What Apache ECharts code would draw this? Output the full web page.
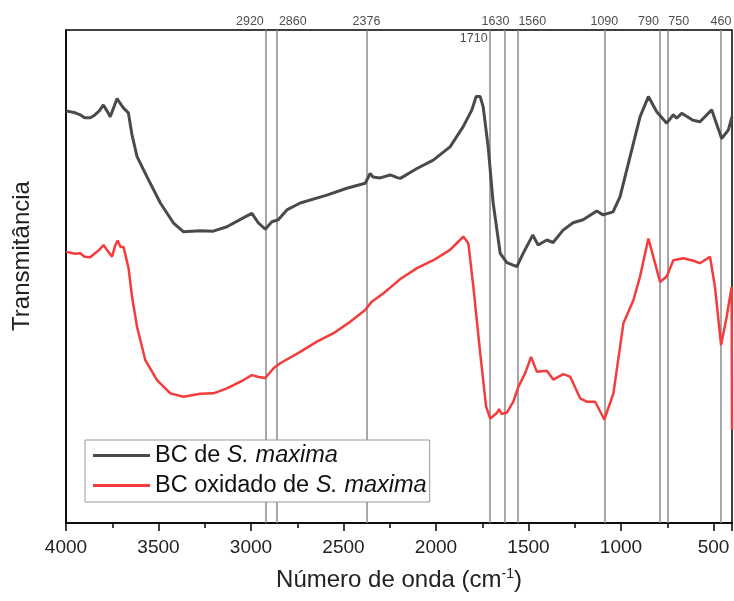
<!DOCTYPE html>
<html>
<head>
<meta charset="utf-8">
<script src="https://cdn.jsdelivr.net/npm/echarts@6/dist/echarts.min.js"></script>
<style>html,body{margin:0;padding:0;background:#fff}#c{width:734px;height:601px}</style>
</head>
<body>
<div id="c"></div>
<script>
// ---- data ----
const seriesNames = ['BC de S. maxima', 'BC oxidado de S. maxima'];
const bcWn = [4000,3950,3923,3900,3869,3850,3820,3798,3775,3761,3740,3724,3705,3690,3663,3643,3616,3562,3490,3420,3366,3274,3204,3130,3042,2995,2961,2923,2887,2853,2806,2734,2590,2482,2383,2356,2340,2302,2248,2205,2193,2103,2015,1924,1853,1806,1783,1761,1745,1718,1691,1653,1617,1563,1529,1477,1448,1401,1367,1313,1259,1205,1131,1097,1043,1005,951,897,852,807,753,717,699,672,611,573,510,456,420,400];
const bcT  = [83.6,83.2,82.8,82.2,82.2,82.6,83.6,84.8,83.4,82.4,84.5,86.1,85.0,84.2,83.2,78.7,74.3,70.2,64.9,60.9,59.1,59.3,59.2,60.1,61.9,62.8,60.9,59.6,61.1,61.5,63.5,64.9,66.5,67.9,68.9,70.9,70.2,70.0,70.6,70.0,69.9,71.9,73.6,76.3,80.4,83.8,86.5,86.5,84.4,76.3,64.9,54.7,52.8,52.0,54.7,58.4,56.4,57.4,56.9,59.4,60.9,61.5,63.3,62.5,63.1,66.2,74.3,82.4,86.5,83.4,81.1,82.8,82.1,83.1,81.7,81.4,83.8,78.0,79.7,82.4];
const oxWn = [4000,3950,3923,3900,3869,3840,3820,3797,3775,3751,3735,3721,3705,3689,3662,3643,3616,3572,3508,3436,3365,3274,3203,3130,3040,2995,2959,2923,2878,2842,2734,2644,2554,2464,2383,2347,2284,2230,2193,2103,2014,1924,1879,1852,1825,1798,1761,1729,1707,1671,1659,1644,1617,1582,1555,1518,1486,1455,1401,1366,1312,1275,1221,1185,1140,1090,1041,987,933,897,852,816,789,753,717,663,609,573,519,492,459,429,402,400];
const oxT  = [55.0,54.6,54.7,54.0,53.9,54.8,55.4,56.4,55.2,54.0,56.2,57.3,56.0,56.0,51.7,45.9,39.8,33.1,29.0,26.3,25.6,26.2,26.3,27.3,29.0,30.0,29.6,29.4,31.4,32.4,34.7,36.8,38.5,40.8,43.2,44.9,46.6,48.3,49.5,51.7,53.3,55.4,57.1,58.1,56.7,47.9,34.4,23.6,21.2,22.3,23.1,22.1,22.4,24.6,27.6,30.4,33.7,30.7,30.9,29.1,30.2,29.7,25.3,24.6,24.6,21.0,26.3,40.5,45.2,50.0,57.7,52.7,48.9,50.0,53.3,53.7,53.2,52.7,54.0,47.9,36.1,41.8,47.9,18.9];
const peaks = [2920,2860,2376,1710,1630,1560,1090,790,750,460];
const xMin = 400, xMax = 4000, yMin = 0, yMax = 100;

// ---- label placement (style, kept separate from data) ----
const peakLabelStyle = {
  2920:{align:'right',offset:[-2,0]},
  2860:{align:'left',offset:[2,0]},
  2376:{align:'center',offset:[0,0]},
  1710:{align:'right',offset:[-2,0],position:'bottom'},
  1630:{align:'center',offset:[-9,0]},
  1560:{align:'left',offset:[1,0]},
  1090:{align:'center',offset:[0,0]},
  790:{align:'right',offset:[-1,0]},
  750:{align:'left',offset:[1,0]},
  460:{align:'center',offset:[0,0]}
};

const FONT = '"Liberation Sans", Arial, sans-serif';
const chart = echarts.init(document.getElementById('c'), null, {renderer:'canvas'});

const zip = (a,b) => a.map((v,i)=>[v,b[i]]);
const fmtName = n => n.replace(/^(.*?)(S\. maxima)$/, '{n|$1}{i|$2}');
const LF = 23.5;

chart.setOption({
  animation:false,
  backgroundColor:'#fff',
  grid:{left:66, right:2, top:30, bottom:78, show:true, borderColor:'#000', borderWidth:1.5, containLabel:false},
  xAxis:{
    type:'value', inverse:true, min:xMin, max:xMax, splitNumber:7,
    axisLine:{show:true, onZero:false, lineStyle:{color:'#000', width:1.5}},
    axisTick:{show:true, inside:false, length:8, lineStyle:{color:'#000', width:1.5}},
    minorTick:{show:true, splitNumber:2, length:5, lineStyle:{color:'#000', width:1.5}},
    splitLine:{show:false},
    axisLabel:{showMinLabel:false, margin:15, fontSize:19, color:'#222', fontFamily:FONT, formatter: v => String(v)},
    name:'Número de onda (cm{sup|-1})', nameLocation:'middle', nameGap:44,
    nameTextStyle:{fontSize:24, color:'#222', fontFamily:FONT,
      rich:{sup:{fontSize:14, verticalAlign:'top', padding:[0,0,12,0], fontFamily:FONT, color:'#222'}}}
  },
  yAxis:{
    type:'value', min:yMin, max:yMax,
    axisLine:{show:true, lineStyle:{color:'#000', width:1.5}},
    axisTick:{show:false}, axisLabel:{show:false}, splitLine:{show:false}
  },
  legend:{
    orient:'vertical', left:85, top:440, z:20,
    data:seriesNames,
    icon:'rect', itemWidth:57, itemHeight:3, itemGap:3,
    padding:[2,3,3,8],
    borderColor:'#999', borderWidth:1, backgroundColor:'#fff',
    formatter: fmtName,
    textStyle:{fontSize:LF, color:'#111', fontFamily:FONT, lineHeight:27,
      rich:{n:{fontSize:LF, fontFamily:FONT, color:'#111', lineHeight:27}, i:{fontSize:LF, fontStyle:'italic', fontFamily:FONT, color:'#111', lineHeight:27}}}
  },
  series:[
    {
      type:'scatter', name:'peaks', silent:true, symbolSize:0, z:1,
      data: peaks.map(p => {
        const s = peakLabelStyle[p] || {};
        return {value:[p, yMax], label:{show:true, position:s.position||'top', distance:2, align:s.align, offset:s.offset, formatter:String(p)}};
      }),
      label:{fontSize:12.5, color:'#222', fontFamily:FONT},
      markLine:{
        silent:true, symbol:['none','none'], animation:false, z:1,
        label:{show:false},
        lineStyle:{color:'#8a8a8a', width:1.5, type:'solid'},
        data: peaks.map(p => ({xAxis:p}))
      }
    },
    {
      type:'line', name:seriesNames[0], data:zip(bcWn,bcT), showSymbol:false, symbol:'none',
      lineStyle:{color:'#4a4a4a', width:3}, itemStyle:{color:'#4a4a4a'}, z:3
    },
    {
      type:'line', name:seriesNames[1], data:zip(oxWn,oxT), showSymbol:false, symbol:'none',
      lineStyle:{color:'#f53b3b', width:2.5}, itemStyle:{color:'#f53b3b'}, z:3
    }
  ],
  graphic:[
    {type:'text', x:22, y:256, rotation:Math.PI/2,
     style:{text:'Transmitância', font:'24px "Liberation Sans", Arial, sans-serif', fill:'#222', align:'center', verticalAlign:'middle'}}
  ]
});
</script>
</body>
</html>
